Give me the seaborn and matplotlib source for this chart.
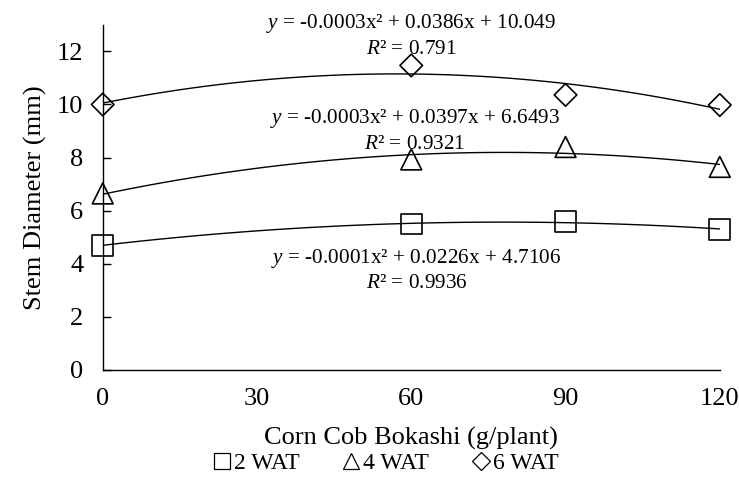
import matplotlib
matplotlib.use('Agg')
import matplotlib.pyplot as plt
from matplotlib.lines import Line2D
import seaborn as sns
import pandas as pd

sns.set_theme(style="white")
plt.rcParams['font.family'] = ['Liberation Serif', 'DejaVu Serif']
plt.rcParams['mathtext.fontset'] = 'custom'
plt.rcParams['mathtext.rm'] = 'Liberation Serif'
plt.rcParams['mathtext.it'] = 'Liberation Serif:italic'
for key in ['text.color', 'axes.labelcolor', 'xtick.color', 'ytick.color']:
    plt.rcParams[key] = 'black'

# ── data ────────────────────────────────────────────────────────
dose = [0, 60, 90, 120]
wat2 = [4.70, 5.50, 5.58, 5.30]
wat4 = [6.65, 7.93, 8.40, 7.65]
wat6 = [10.00, 11.47, 10.36, 9.98]
series = ['2 WAT', '4 WAT', '6 WAT']
equations = ['$y$ = -0.0001x² + 0.0226x + 4.7106\n$R$² = 0.9936',
             '$y$ = -0.0003x² + 0.0397x + 6.6493\n$R$² = 0.9321',
             '$y$ = -0.0003x² + 0.0386x + 10.049\n$R$² = 0.791']
eq_pos = [(61, 3.76), (60.7, 9.02), (60, 12.6)]

df = pd.DataFrame({'dose': dose * 3,
                   'diameter': wat2 + wat4 + wat6,
                   'week': [s for s in series for _ in dose]})

markers = {'2 WAT': ('s', 15), '4 WAT': ('^', 15), '6 WAT': ('D', 11.5)}

fig, ax = plt.subplots(figsize=(7.39, 4.78), dpi=100)
fig.subplots_adjust(left=0.139, right=0.974, bottom=0.226, top=0.948)

for name, eq, pos in zip(series, equations, eq_pos):
    sub = df[df['week'] == name]
    # quadratic trend line
    sns.regplot(data=sub, x='dose', y='diameter', order=2, ci=None, scatter=False,
                truncate=True, line_kws={'color': 'black', 'lw': 1.0}, ax=ax)
    m, ms = markers[name]
    sns.scatterplot(data=sub, x='dose', y='diameter', marker=m, s=ms ** 2,
                    facecolor='none', edgecolor='black', linewidth=1.2,
                    clip_on=False, zorder=3, ax=ax)
    ax.text(pos[0], pos[1], eq, ha='center', va='center', fontsize=15.3,
            linespacing=1.3)

ax.set_xlim(0, 120)
ax.set_ylim(0, 13)
ax.set_xticks([0, 30, 60, 90, 120])
ax.set_yticks(range(0, 13, 2))
ax.tick_params(axis='x', length=0, labelsize=19, pad=13)
ax.tick_params(axis='y', direction='in', length=6, width=1, color='black',
               labelsize=19, left=True, pad=14)
for side in ['top', 'right']:
    ax.spines[side].set_visible(False)
for side in ['left', 'bottom']:
    ax.spines[side].set_color('black')
    ax.spines[side].set_linewidth(1.0)

ax.set_xlabel('Corn Cob Bokashi (g/plant)', fontsize=19, labelpad=12)
ax.set_ylabel('Stem Diameter (mm)', fontsize=19, labelpad=7)

handles = [Line2D([], [], linestyle='none', marker=markers[s][0],
                  markersize=markers[s][1] * 0.8, markerfacecolor='none',
                  markeredgecolor='black', markeredgewidth=0.9) for s in series]
fig.legend(handles, series, loc='center', bbox_to_anchor=(0.52, 0.03),
           ncol=3, frameon=False, fontsize=17, handletextpad=0.0,
           columnspacing=1.7, handlelength=1.0, borderpad=0.0)

fig.savefig('out.png', dpi=100)
plt.close()
